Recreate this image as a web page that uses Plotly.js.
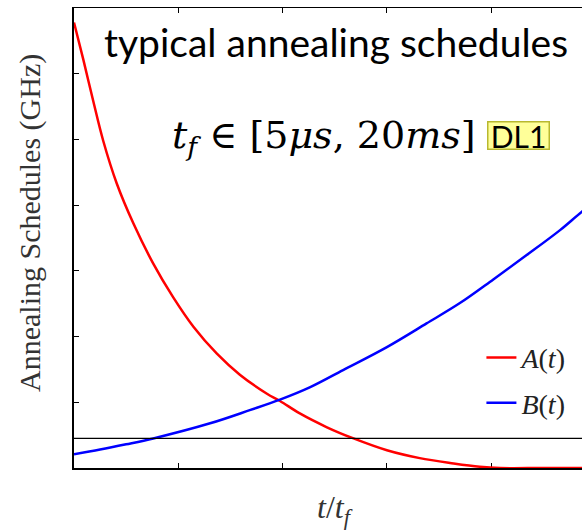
<!DOCTYPE html>
<html>
<head>
<meta charset="utf-8">
<script src="https://cdn.plot.ly/plotly-3.0.1.min.js"></script>
<style>html,body{margin:0;padding:0;background:#fff;}#chart{width:582px;height:530px;}</style>
</head>
<body>
<div id="chart"></div>
<script>
// normalized time t/t_f and schedule values (GHz)
const sA = [0, 0.018, 0.037, 0.056, 0.082, 0.114, 0.152, 0.19, 0.229, 0.274, 0.318, 0.37, 0.395, 0.433, 0.485, 0.536, 0.6, 0.663, 0.728, 0.778, 0.817, 0.9, 1.0];
const A   = [6.78, 6.21, 5.58, 4.98, 4.33, 3.72, 3.11, 2.6, 2.15, 1.74, 1.42, 1.13, 1.02, 0.83, 0.62, 0.45, 0.27, 0.15, 0.07, 0.02, 0.0, 0.0, 0.0];
const sB = [0, 0.05, 0.1, 0.152, 0.261, 0.337, 0.395, 0.453, 0.516, 0.6, 0.676, 0.74, 0.804, 0.868, 0.932, 0.974, 1.0];
const B   = [0.21, 0.28, 0.36, 0.45, 0.68, 0.88, 1.04, 1.23, 1.49, 1.84, 2.2, 2.51, 2.87, 3.24, 3.62, 3.9, 4.05];
const kTx = [0, 1];
const kT  = [0.45, 0.45];
const xTicks = [0.2, 0.4, 0.6, 0.8];
const yTicks = [1, 2, 3, 4, 5, 6];

const serif = "Liberation Serif, Times New Roman, serif";
const traces = [
  {x: kTx, y: kT, xaxis: 'x2', yaxis: 'y', mode: 'lines', line: {color: '#000', width: 1.3}, showlegend: false, hoverinfo: 'skip'},
  {x: sA, y: A, mode: 'lines', name: '<i>A</i>(<i>t</i>)', legendgroup: 'a', line: {color: '#ff0000', width: 2.5, shape: 'spline', smoothing: 1}},
  {x: sB, y: B, mode: 'lines', name: '<i>B</i>(<i>t</i>)', legendgroup: 'b', line: {color: '#0000ff', width: 2.5, shape: 'spline', smoothing: 1}}
];
const xr = [0, 508 / 521.5];
const layout = {
  width: 582, height: 530,
  margin: {l: 74, r: 0, t: 8, b: 62, pad: 0},
  paper_bgcolor: '#fff', plot_bgcolor: '#fff',
  showlegend: true,
  legend: {x: 0.802, xanchor: 'left', y: 0.294, yanchor: 'top', bgcolor: 'rgba(0,0,0,0)', borderwidth: 0,
           font: {family: serif, size: 28, color: '#222'}, traceorder: 'grouped', tracegroupgap: 6},
  xaxis: {range: xr, showgrid: false, zeroline: false, showline: true, linecolor: '#000', linewidth: 2,
          ticks: 'inside', ticklen: 5, tickwidth: 1, tickcolor: '#000', tickvals: xTicks, showticklabels: false, layer: 'below traces'},
  xaxis2: {range: xr, overlaying: 'x', side: 'top', showgrid: false, zeroline: false, showline: true, linecolor: '#000', linewidth: 1.5,
          ticks: 'inside', ticklen: 5, tickwidth: 1, tickcolor: '#000', tickvals: xTicks, showticklabels: false},
  yaxis: {range: [0, 7], showgrid: false, zeroline: false, showline: true, linecolor: '#000', linewidth: 2,
          ticks: 'inside', ticklen: 5, tickwidth: 1, tickcolor: '#000', tickvals: yTicks, showticklabels: false, layer: 'below traces'},
  annotations: [
    {xref: 'paper', yref: 'paper', x: (336 - 74) / 508, y: (468 - 42) / 460, text: 'typical annealing schedules', showarrow: false,
     font: {family: 'Lato, Open Sans, sans-serif', size: 39, color: '#000'}, xanchor: 'center', yanchor: 'middle'},
    {xref: 'paper', yref: 'paper', x: (324 - 74) / 508, y: (468 - 137) / 460, text: '<i>t</i><sub><i>f</i></sub> ∈ [5<i>μs</i>, 20<i>ms</i>]', showarrow: false,
     font: {family: 'DejaVu Serif, serif', size: 38, color: '#000'}, xanchor: 'center', yanchor: 'middle'},
    {xref: 'paper', yref: 'paper', x: (518 - 74) / 508, y: (468 - 136) / 460, text: 'DL1', showarrow: false,
     font: {family: 'Lato, Open Sans, sans-serif', size: 30, color: '#000'}, bgcolor: '#ffff99', bordercolor: '#b8b830', borderwidth: 1.5, borderpad: 0,
     width: 60, height: 26, xanchor: 'center', yanchor: 'middle'},
    {xref: 'paper', yref: 'paper', x: (30 - 74) / 508, y: (468 - 223) / 460, text: 'Annealing Schedules (GHz)', textangle: -90, showarrow: false,
     font: {family: serif, size: 30, color: '#333'}, xanchor: 'center', yanchor: 'middle'},
    {xref: 'paper', yref: 'paper', x: (335 - 74) / 508, y: (468 - 509) / 460, text: '<i>t</i>/<i>t</i><sub><i>f</i></sub>', showarrow: false,
     font: {family: serif, size: 32, color: '#333'}, xanchor: 'center', yanchor: 'middle'}
  ]
};
Plotly.newPlot('chart', traces, layout, {displayModeBar: false, staticPlot: true});
</script>
</body>
</html>
